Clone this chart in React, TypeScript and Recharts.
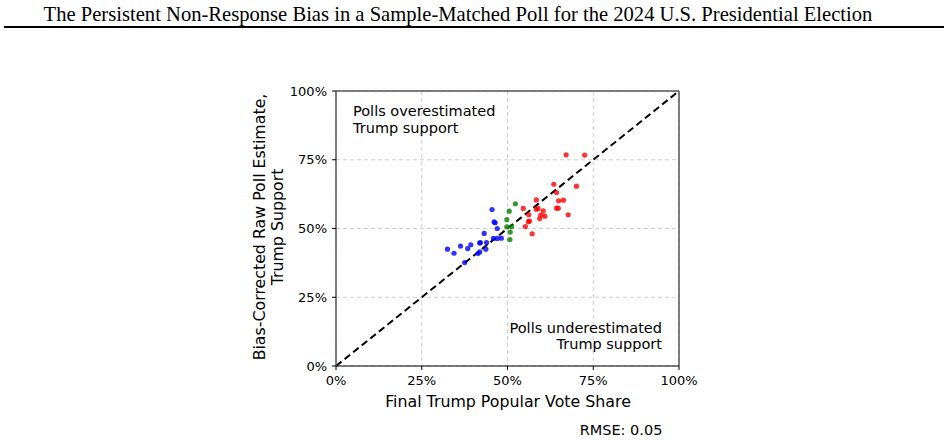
import React from "react";
import {
  ScatterChart,
  Scatter,
  XAxis,
  YAxis,
  CartesianGrid,
  ReferenceLine,
} from "recharts";

// final vote share (x) vs bias-corrected poll estimate (y), in %
const blueX = [32.5, 34.4, 36.3, 37.5, 38.4, 39.3, 41.4, 41.9, 41.9, 42.1, 43.2, 43.7, 43.9, 45.5, 45.9, 46.1, 46.4, 47.0, 47.0, 48.2];
const blueY = [42.5, 41.0, 43.6, 37.6, 42.7, 44.1, 40.9, 41.5, 44.7, 44.9, 48.2, 42.5, 44.9, 56.9, 46.4, 52.4, 52.1, 50.0, 46.4, 46.5];

const greenX = [52.3, 50.5, 49.8, 49.8, 51.2, 50.8, 50.7];
const greenY = [59.0, 56.3, 53.2, 50.6, 50.7, 48.7, 46.0];

const redX = [67.1, 72.5, 63.5, 70.1, 64.3, 58.4, 64.9, 66.3, 54.6, 58.4, 58.9, 60.4, 64.3, 64.8, 56.2, 59.7, 60.9, 59.4, 67.7, 56.1, 56.4, 55.2, 57.2];
const redY = [76.8, 76.7, 66.1, 65.4, 63.1, 60.4, 60.1, 60.3, 57.3, 57.0, 57.3, 56.4, 57.4, 57.4, 55.0, 54.9, 54.5, 53.6, 55.0, 52.5, 52.7, 50.7, 48.1];

const ticks = [0, 25, 50, 75, 100];

const toPoints = (xs: number[], ys: number[]) => xs.map((x, i) => ({ x, y: ys[i] }));

const dot = (color: string) => (props: any) => (
  <circle cx={props.cx} cy={props.cy} r={2.6} fill={color} fillOpacity={0.8} />
);

const sans = "DejaVu Sans";

export default function App() {
  return (
    <div style={{ position: "absolute", left: 0, top: 0, width: 948, height: 442, background: "#fff" }}>
      <div
        style={{
          position: "absolute",
          top: 2,
          left: 0,
          width: 916,
          textAlign: "center",
          whiteSpace: "nowrap",
          fontFamily: "Liberation Serif",
          fontSize: 20.6,
          lineHeight: "24px",
        }}
      >
        The Persistent Non-Response Bias in a Sample-Matched Poll for the 2024 U.S. Presidential Election
      </div>
      <div style={{ position: "absolute", top: 26, left: 4, width: 940, height: 1.5, background: "#000" }} />

      <div style={{ position: "absolute", top: 0, left: 0 }}>
        <ScatterChart width={948} height={442} margin={{ top: 91, right: 269, bottom: 46, left: 286 }}>
          <CartesianGrid stroke="#cfcfcf" strokeDasharray="4 3" />
          <XAxis
            type="number"
            dataKey="x"
            domain={[0, 100]}
            ticks={ticks}
            height={30}
            tickFormatter={(v) => `${v}%`}
            axisLine={{ stroke: "#000", strokeWidth: 1 }}
            tickLine={{ stroke: "#000" }}
            tickSize={4}
            tickMargin={6}
            tick={{ fill: "#000", fontSize: 13, fontFamily: sans }}
          />
          <YAxis
            type="number"
            dataKey="y"
            domain={[0, 100]}
            ticks={ticks}
            width={50}
            tickFormatter={(v) => `${v}%`}
            axisLine={{ stroke: "#555", strokeWidth: 1.5 }}
            tickLine={{ stroke: "#000" }}
            tickSize={4}
            tickMargin={5}
            tick={{ fill: "#000", fontSize: 13, fontFamily: sans }}
          />
          <ReferenceLine y={100} stroke="#555" strokeWidth={1.5} />
          <ReferenceLine x={100} stroke="#555" strokeWidth={1.5} />
          <ReferenceLine
            segment={[{ x: 0, y: 0 }, { x: 100, y: 100 }]}
            stroke="#000"
            strokeWidth={2}
            strokeDasharray="7 4"
          />
          <Scatter data={toPoints(blueX, blueY)} shape={dot("#0000ff")} isAnimationActive={false} />
          <Scatter data={toPoints(greenX, greenY)} shape={dot("#008000")} isAnimationActive={false} />
          <Scatter data={toPoints(redX, redY)} shape={dot("#ff0000")} isAnimationActive={false} />
        </ScatterChart>
      </div>

      <svg width={948} height={442} style={{ position: "absolute", left: 0, top: 0, pointerEvents: "none" }}>
        <g fontFamily={sans} fontSize={14.5} fill="#000">
          <text x={353} y={116}>Polls overestimated</text>
          <text x={353} y={133}>Trump support</text>
          <text x={662} y={333} textAnchor="end">Polls underestimated</text>
          <text x={662} y={349} textAnchor="end">Trump support</text>
          <text x={508} y={407} textAnchor="middle" fontSize={15.8}>Final Trump Popular Vote Share</text>
          <text x={621} y={435} textAnchor="middle" fontSize={14.5}>RMSE: 0.05</text>
          <text transform="translate(265 227) rotate(-90)" textAnchor="middle" fontSize={15.8}>Bias-Corrected Raw Poll Estimate,</text>
          <text transform="translate(283 227) rotate(-90)" textAnchor="middle" fontSize={15.8}>Trump Support</text>
        </g>
      </svg>
    </div>
  );
}
